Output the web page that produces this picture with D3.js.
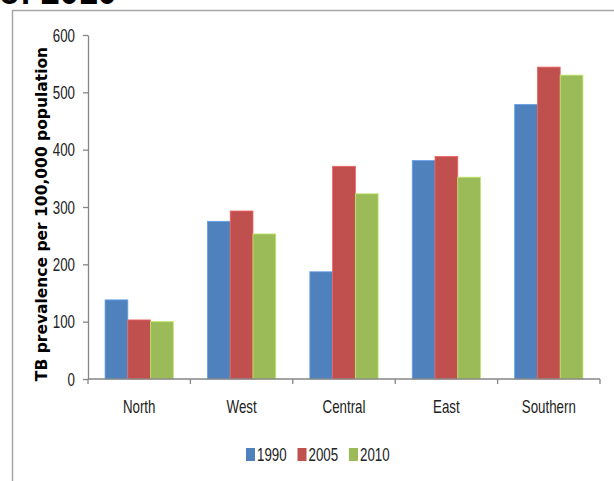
<!DOCTYPE html>
<html>
<head>
<meta charset="utf-8">
<script src="https://cdn.jsdelivr.net/npm/d3@7"></script>
<style>
  html, body { margin: 0; padding: 0; background: #fff; }
  svg { display: block; }
</style>
</head>
<body>
<svg id="chart" width="614" height="481"></svg>
<script>
// Regions and survey years
const regions = ["North", "West", "Central", "East", "Southern"];
const years = ["1990", "2005", "2010"];

// TB prevalence per 100,000 population, one array per year
const values1990 = [138, 275, 187, 381, 479];
const values2005 = [103, 293, 371, 388, 544];
const values2010 = [100, 253, 323, 352, 530];

const yTicks = [0, 100, 200, 300, 400, 500, 600];
const colors = ["#4F81BD", "#C0504D", "#9BBB59"];

const series = [values1990, values2005, values2010];

const svg = d3.select("#chart");
const labelFont = "'Liberation Sans', Arial, sans-serif";
const labelSize = 18;
const squeeze = 0.74;   // horizontal compression for the narrow label face

// Places a horizontally condensed label at (x, y)
function narrowText(parent, x, y, str, anchor) {
  return parent.append("text")
    .attr("transform", `translate(${x},${y}) scale(${squeeze},1)`)
    .attr("text-anchor", anchor || "start")
    .attr("font-family", labelFont)
    .attr("font-size", labelSize)
    .attr("fill", "#222")
    .text(str);
}

// Title text running off the top edge
svg.append("text")
  .attr("transform", "translate(-1,4) scale(0.9,1)")
  .attr("font-family", "'Liberation Sans', Arial, sans-serif")
  .attr("font-weight", "bold")
  .attr("font-size", 38)
  .attr("fill", "#000")
  .text("of 2010");

// Chart frame
svg.append("rect")
  .attr("x", 12.5).attr("y", 10.5)
  .attr("width", 700).attr("height", 600)
  .attr("fill", "none")
  .attr("stroke", "#a6a6a6")
  .attr("stroke-width", 1.5);

const plot = { left: 88, right: 600, top: 35, bottom: 379 };

const x = d3.scaleBand()
  .domain(regions)
  .range([plot.left, plot.right])
  .paddingInner(1 / 3)
  .paddingOuter(1 / 6);

const xInner = d3.scaleBand()
  .domain(years)
  .range([0, x.bandwidth()]);

const y = d3.scaleLinear()
  .domain([0, 600])
  .range([plot.bottom, plot.top]);

// Bars
years.forEach((yr, i) => {
  svg.append("g")
    .selectAll("rect")
    .data(series[i])
    .join("rect")
    .attr("x", (d, j) => x(regions[j]) + xInner(yr))
    .attr("y", d => y(d))
    .attr("width", xInner.bandwidth())
    .attr("height", d => y(0) - y(d))
    .attr("fill", colors[i])
    .attr("stroke", d3.color(colors[i]).brighter(0.6))
    .attr("stroke-width", 0.8);
});

const axisColor = "#868686";

// Y axis: line and ticks from d3.axisLeft, labels condensed
const yAxis = svg.append("g")
  .attr("transform", `translate(${plot.left},0)`)
  .call(d3.axisLeft(y).tickValues(yTicks).tickSize(5).tickSizeOuter(0).tickFormat(""));
yAxis.select(".domain").attr("stroke", axisColor).attr("stroke-width", 1.3);
yAxis.selectAll(".tick line").attr("stroke", axisColor).attr("stroke-width", 1.3);
const yLabels = svg.append("g");
yTicks.forEach(t => narrowText(yLabels, plot.left - 13, y(t) + 6.5, String(t), "end"));

// X axis with ticks at category boundaries
const xAxisG = svg.append("g")
  .attr("transform", `translate(0,${plot.bottom})`);
xAxisG.append("line")
  .attr("x1", plot.left).attr("x2", plot.right)
  .attr("stroke", axisColor).attr("stroke-width", 1.3);
const boundaries = regions.map(r => x(r) - x.step() * x.paddingInner() / 2)
  .concat([plot.right]);
xAxisG.selectAll("line.tick")
  .data(boundaries)
  .join("line")
  .attr("class", "tick")
  .attr("x1", d => d).attr("x2", d => d)
  .attr("y1", 0).attr("y2", 5)
  .attr("stroke", axisColor).attr("stroke-width", 1.3);
regions.forEach(r => narrowText(xAxisG, x(r) + x.bandwidth() / 2, 34, r, "middle"));

// Y axis title
svg.append("text")
  .attr("transform", `translate(47,${(45 + 383) / 2}) rotate(-90)`)
  .attr("text-anchor", "middle")
  .attr("font-family", "'DejaVu Sans', Verdana, sans-serif")
  .attr("font-weight", "bold")
  .attr("font-size", 15.5)
  .attr("fill", "#000")
  .text("TB prevalence per 100,000 population");

// Legend
const legend = svg.append("g").attr("transform", "translate(246,448)");
const legendStep = 51.5;
years.forEach((yr, i) => {
  const g = legend.append("g").attr("transform", `translate(${i * legendStep},0)`);
  g.append("rect")
    .attr("width", 9).attr("height", 13)
    .attr("fill", colors[i]);
  narrowText(g, 11, 13, yr, "start");
});
</script>
</body>
</html>
